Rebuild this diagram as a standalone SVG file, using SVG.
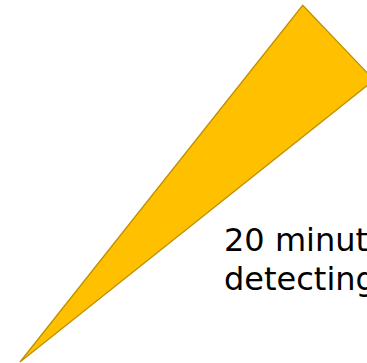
<svg xmlns="http://www.w3.org/2000/svg" width="367" height="363" viewBox="0 0 367 363">
  <style>
    .wedge { fill: #FFC000; stroke: #BF9000; stroke-width: 1.3; stroke-linejoin: miter; }
    .label { font-family: "DejaVu Sans", "Liberation Sans", sans-serif; font-size: 32px; fill: #000000; }
  </style>
  <rect width="367" height="363" fill="#FFFFFF"/>
  <g id="wedge">
    <polygon class="wedge" points="20,362 302.7,5.3 374,80"/>
  </g>
  <g id="caption">
    <text class="label" x="224" y="251">20 minut</text>
    <text class="label" x="224" y="290">detecting</text>
  </g>
</svg>
